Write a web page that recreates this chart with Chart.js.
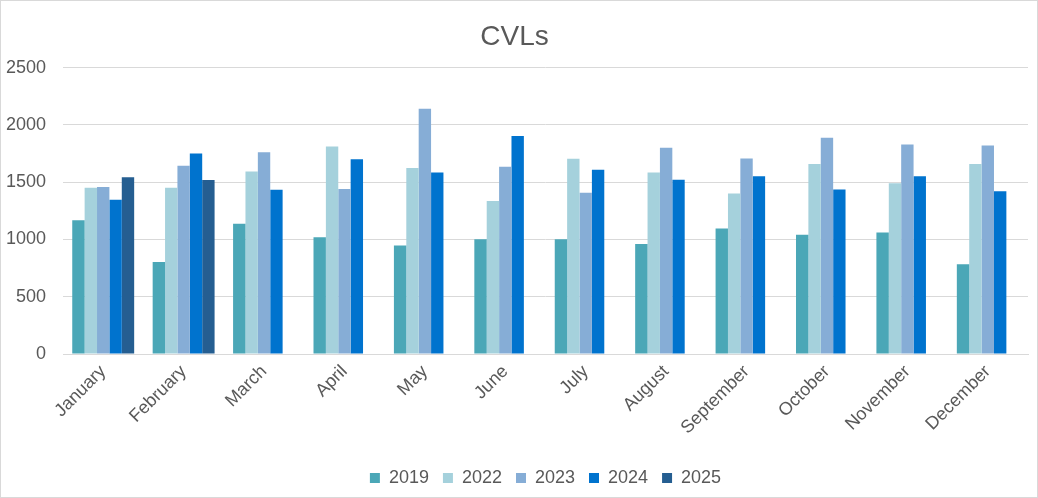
<!DOCTYPE html>
<html>
<head>
<meta charset="utf-8">
<script src="https://cdn.jsdelivr.net/npm/chart.js@4/dist/chart.umd.min.js"></script>
<style>
  html, body { margin: 0; padding: 0; background: #fff; }
  .wrap {
    box-sizing: border-box;
    width: 1038px;
    height: 498px;
    border: 1px solid #d9d9d9;
  }
  canvas { display: block; }
</style>
</head>
<body>
<div class="wrap">
  <canvas id="myChart" width="1036" height="496"></canvas>
</div>
<script>
// Data

const months = ['January', 'February', 'March', 'April', 'May', 'June', 'July', 'August', 'September', 'October', 'November', 'December'];
const yearLabels = ['2019', '2022', '2023', '2024', '2025'];

const cvl2019 = [1167, 804, 1138, 1019, 947, 1002, 1002, 961, 1095, 1042, 1060, 784];
const cvl2022 = [1452, 1452, 1594, 1812, 1623, 1336, 1704, 1585, 1400, 1658, 1490, 1658];
const cvl2023 = [1458, 1643, 1760, 1440, 2140, 1635, 1408, 1800, 1707, 1887, 1829, 1821];
const cvl2024 = [1347, 1751, 1434, 1701, 1585, 1902, 1609, 1521, 1551, 1437, 1551, 1420];
const cvl2025 = [1542, 1519, null, null, null, null, null, null, null, null, null, null];

const yTicks = [0, 500, 1000, 1500, 2000, 2500];

const colors = ['#4ba7b7', '#a5d1dc', '#86add6', '#0073ce', '#255e91'];
const textColor = '#595959';
const fontName = '"Liberation Sans", Arial, sans-serif';



// Bar Chart

const ctx = document.getElementById('myChart').getContext('2d');

const seriesList = [cvl2019, cvl2022, cvl2023, cvl2024, cvl2025];

const myChart = new Chart(ctx, {
  type: 'bar',
  data: {
    labels: months,
    datasets: seriesList.map((values, i) => ({
      label: yearLabels[i],
      data: values,
      backgroundColor: colors[i],
      borderWidth: 0,
      categoryPercentage: 0.77,
      barPercentage: 1.0
    }))
  },
  options: {
    responsive: false,
    animation: false,
    layout: {
      padding: { left: 0, right: 9, top: 0, bottom: 0 }
    },
    plugins: {
      title: {
        display: true,
        text: 'CVLs',
        color: textColor,
        font: { family: fontName, size: 28, weight: 'normal' },
        padding: { top: 19, bottom: 14 }
      },
      legend: {
        position: 'bottom',
        fullSize: false,
        labels: {
          color: textColor,
          font: { family: fontName, size: 18 },
          boxWidth: 10,
          boxHeight: 10,
          padding: 14
        }
      },
      tooltip: { enabled: false }
    },
    scales: {
      x: {
        grid: { display: false, drawTicks: false },
        border: { display: true, color: '#d9d9d9', width: 1 },
        ticks: {
          color: textColor,
          font: { family: fontName, size: 18 },
          minRotation: 45,
          maxRotation: 45,
          padding: 7
        },
        afterFit: (scale) => { scale.height = 101; }
      },
      y: {
        min: 0,
        max: 2500,
        afterBuildTicks: (scale) => { scale.ticks = yTicks.map(v => ({ value: v })); },
        grid: { color: '#d9d9d9', drawTicks: false },
        border: { display: false },
        ticks: {
          color: textColor,
          font: { family: fontName, size: 18 },
          padding: 17,
          callback: (value) => String(value)
        },
        afterFit: (scale) => { scale.width = 62; }
      }
    }
  }
});
</script>
</body>
</html>
